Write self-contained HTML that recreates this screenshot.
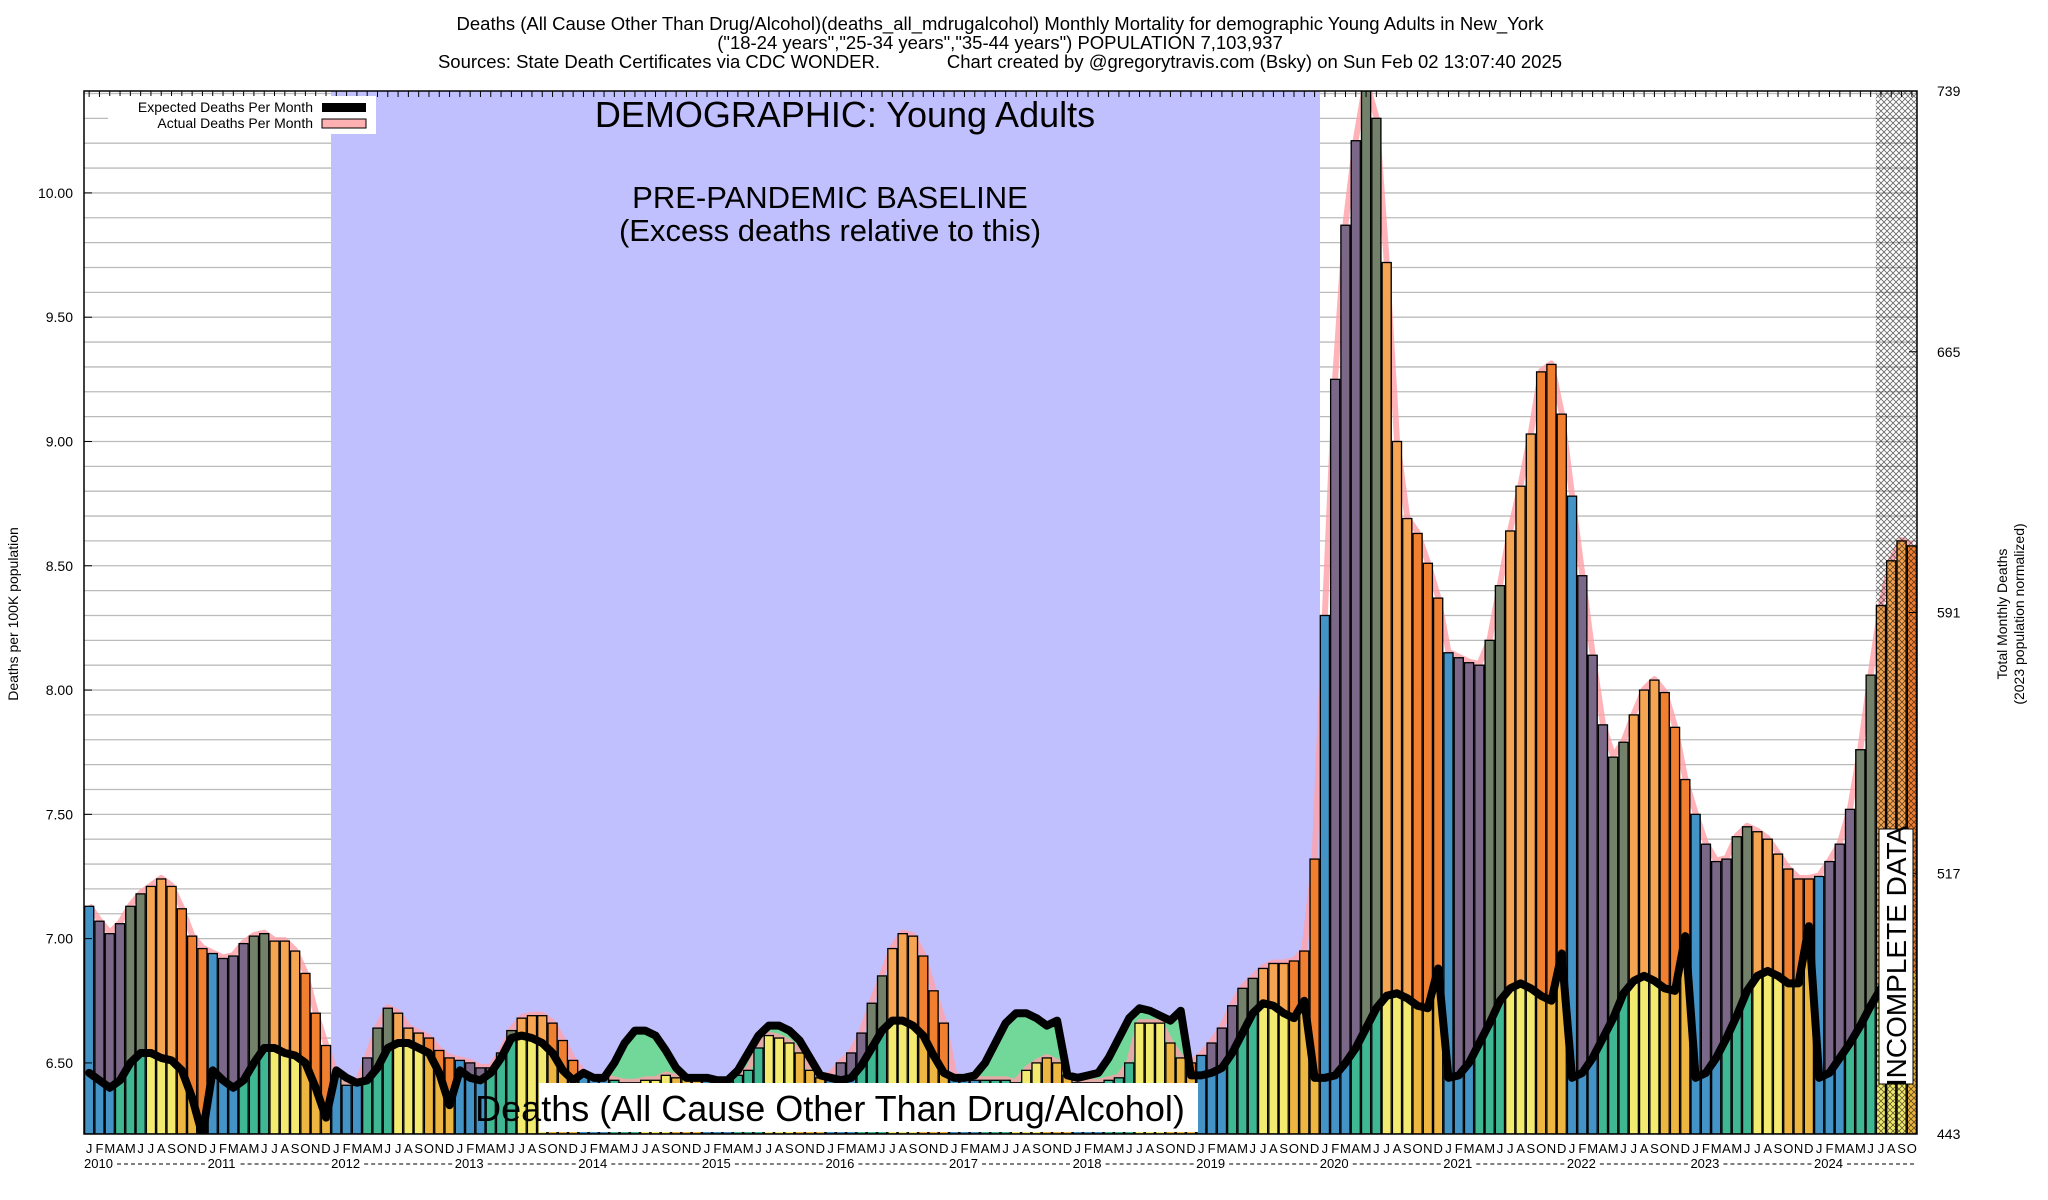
<!DOCTYPE html>
<html><head><meta charset="utf-8">
<style>
html,body{margin:0;padding:0;background:#fff;}
svg{display:block;font-family:"Liberation Sans",Arial,sans-serif;}
</style></head>
<body>
<svg id="chart" width="2048" height="1200" viewBox="0 0 2048 1200" xmlns="http://www.w3.org/2000/svg">
<defs>
<pattern id="hatch" width="6" height="6" patternUnits="userSpaceOnUse">
<path d="M0,0 L6,6 M6,0 L0,6" stroke="#000" stroke-width="0.8" fill="none"/>
</pattern>
<clipPath id="plotclip"><rect x="84" y="91" width="1833" height="1043"/></clipPath>
</defs>
<g font-size="18.5" text-anchor="middle" fill="#000">
<text x="1000" y="30">Deaths (All Cause Other Than Drug/Alcohol)(deaths_all_mdrugalcohol) Monthly Mortality for demographic Young Adults in New_York</text>
<text x="1000" y="49">("18-24 years","25-34 years","35-44 years") POPULATION 7,103,937</text>
<text x="1000" y="68" xml:space="preserve">Sources: State Death Certificates via CDC WONDER.             Chart created by @gregorytravis.com (Bsky) on Sun Feb 02 13:07:40 2025</text>
</g>
<g id="grid"></g>
<rect x="331" y="91" width="989" height="1043" fill="#c0c0ff"/>
<g id="marks" clip-path="url(#plotclip)"></g>
<g id="axes"></g>
<g>
<text x="845" y="127" font-size="36" text-anchor="middle">DEMOGRAPHIC: Young Adults</text>
<text x="830" y="208" font-size="31" text-anchor="middle">PRE-PANDEMIC BASELINE</text>
<text x="830" y="241" font-size="31" text-anchor="middle">(Excess deaths relative to this)</text>
<rect x="539" y="1083" width="659" height="49" fill="#fff"/>
<text x="830" y="1121" font-size="36" text-anchor="middle">Deaths (All Cause Other Than Drug/Alcohol)</text>
<rect x="1879" y="829" width="34" height="255" fill="#fff" stroke="#000" stroke-width="1"/>
<text transform="translate(1906,956) rotate(-90)" font-size="28" text-anchor="middle">INCOMPLETE DATA</text>
</g>
<g>
<rect x="108" y="96" width="268" height="38" fill="#fff"/>
<text x="313" y="112" font-size="14" text-anchor="end">Expected Deaths Per Month</text>
<rect x="322" y="103" width="44" height="9" fill="#000"/>
<text x="313" y="128" font-size="14" text-anchor="end">Actual Deaths Per Month</text>
<rect x="322" y="119" width="44" height="9" fill="#ffb0b0" stroke="#000" stroke-width="1"/>
</g>
<text transform="translate(18,614) rotate(-90)" font-size="14" text-anchor="middle">Deaths per 100K population</text>
<text transform="translate(2007,614) rotate(-90)" font-size="14" text-anchor="middle">Total Monthly Deaths</text>
<text transform="translate(2024,614) rotate(-90)" font-size="14" text-anchor="middle">(2023 population normalized)</text>
</svg>
<script>
const monthLetters = ["J","F","M","A","M","J","J","A","S","O","N","D"];
const yearLabels = ["2010","2011","2012","2013","2014","2015","2016","2017","2018","2019","2020","2021","2022","2023","2024"];
const actualDeaths = [
7.13,7.07,7.02,7.06,7.13,7.18,7.21,7.24,7.21,7.12,7.01,6.96,
6.94,6.92,6.93,6.98,7.01,7.02,6.99,6.99,6.95,6.86,6.70,6.57,
6.45,6.41,6.41,6.52,6.64,6.72,6.70,6.64,6.62,6.60,6.55,6.52,
6.51,6.50,6.48,6.48,6.54,6.63,6.68,6.69,6.69,6.66,6.59,6.51,
6.46,6.44,6.44,6.43,6.42,6.42,6.43,6.43,6.45,6.44,6.44,6.43,
6.43,6.43,6.43,6.45,6.47,6.56,6.61,6.60,6.58,6.54,6.47,6.44,
6.45,6.50,6.54,6.62,6.74,6.85,6.96,7.02,7.01,6.93,6.79,6.66,
6.45,6.43,6.43,6.43,6.43,6.43,6.42,6.47,6.50,6.52,6.50,6.45,
6.42,6.42,6.42,6.43,6.44,6.50,6.66,6.66,6.66,6.58,6.52,6.50,
6.53,6.58,6.64,6.73,6.80,6.84,6.88,6.90,6.90,6.91,6.95,7.32,
8.30,9.25,9.87,10.21,10.45,10.30,9.72,9.00,8.69,8.63,8.51,8.37,
8.15,8.13,8.11,8.10,8.20,8.42,8.64,8.82,9.03,9.28,9.31,9.11,
8.78,8.46,8.14,7.86,7.73,7.79,7.90,8.00,8.04,7.99,7.85,7.64,
7.50,7.38,7.31,7.32,7.41,7.45,7.43,7.40,7.34,7.28,7.24,7.24,
7.25,7.31,7.38,7.52,7.76,8.06,8.34,8.52,8.60,8.58];
const expectedDeaths = [
6.46,6.43,6.40,6.43,6.50,6.54,6.54,6.52,6.51,6.47,6.36,6.21,
6.47,6.43,6.40,6.43,6.50,6.56,6.56,6.54,6.53,6.50,6.40,6.28,
6.47,6.44,6.42,6.43,6.48,6.56,6.58,6.58,6.56,6.54,6.46,6.33,
6.47,6.44,6.43,6.46,6.52,6.60,6.61,6.60,6.58,6.54,6.47,6.43,
6.46,6.44,6.44,6.50,6.58,6.63,6.63,6.61,6.55,6.48,6.44,6.44,
6.44,6.43,6.43,6.47,6.54,6.61,6.65,6.65,6.63,6.59,6.52,6.45,
6.44,6.43,6.44,6.49,6.56,6.63,6.67,6.67,6.65,6.61,6.53,6.46,
6.44,6.44,6.45,6.50,6.58,6.66,6.70,6.70,6.68,6.65,6.67,6.45,
6.44,6.45,6.46,6.52,6.60,6.68,6.72,6.71,6.69,6.67,6.71,6.45,
6.45,6.46,6.48,6.54,6.62,6.70,6.74,6.73,6.70,6.68,6.75,6.44,
6.44,6.45,6.50,6.56,6.64,6.72,6.77,6.78,6.76,6.73,6.72,6.88,
6.44,6.45,6.50,6.58,6.66,6.75,6.80,6.82,6.80,6.77,6.75,6.94,
6.44,6.46,6.52,6.60,6.68,6.78,6.83,6.85,6.83,6.80,6.79,7.01,
6.44,6.46,6.52,6.60,6.69,6.79,6.85,6.87,6.85,6.82,6.82,7.05,
6.44,6.46,6.52,6.58,6.65,6.73,6.80,6.86];
const leftTicks = [6.5,7.0,7.5,8.0,8.5,9.0,9.5,10.0];
const rightTicks = [443,517,591,665,739];
const incompleteFrom = 174;

const NS="http://www.w3.org/2000/svg";
const PL=84, PR=1917, PT=91, PB=1134;
const VMIN=6.214, VMAX=10.41, DMIN=443, DMAX=739;
const nMonths = 178;
const bw = (PR-PL)/nMonths;
function xS(i){return PL+i*bw;}
function yS(v){return PB-(v-VMIN)/(VMAX-VMIN)*(PB-PT);}
function yD(d){return PB-(d-DMIN)/(DMAX-DMIN)*(PB-PT);}
function mk(tag,attrs,parent){const e=document.createElementNS(NS,tag);for(const k in attrs)e.setAttribute(k,attrs[k]);parent.appendChild(e);return e;}
const grid=document.getElementById('grid'), marks=document.getElementById('marks'), axes=document.getElementById('axes');
for(let g=62;g<=104;g++){const v=g/10;const y=yS(v);if(y<PT||y>PB)continue;
 const l=mk('line',{x1:PL,x2:PR,y1:y,y2:y,stroke:'#bbb','stroke-width':1.3},grid);
 
 }
const topCol=["#4393c7","#7b6888","#7b6888","#7b6888","#73806a","#73806a","#f5a452","#f5a452","#f5a452","#f08030","#f08030","#f08030"];
const botCol=["#4393c7","#4393c7","#4393c7","#3fb793","#3fb793","#3fb793","#f3ea70","#f3ea70","#f3ea70","#ecb640","#ecb640","#ecb640"];
let gp="M"+xS(0)+","+PB;
expectedDeaths.forEach((v,i)=>{gp+=" L"+(xS(i)+bw/2)+","+yS(v);});
gp+=" L"+(xS(expectedDeaths.length-1)+bw/2)+","+PB+" Z";
const green=mk('path',{d:gp,fill:'#72d89a'},marks);


let pp="";
actualDeaths.forEach((v,i)=>{pp+=(i?" L":"M")+(xS(i)+bw/2)+","+(yS(v)-1);});
const pink=mk('path',{d:pp,fill:'none',stroke:'#ffa0a8','stroke-width':6,'stroke-linejoin':'round',opacity:0.8},marks);


actualDeaths.forEach((v,i)=>{
 const m=i%12, x=xS(i), ya=yS(v);
 const e=i<expectedDeaths.length?expectedDeaths[i]:expectedDeaths[expectedDeaths.length-1];
 const ye=Math.max(yS(e),ya);
 const g=mk('g',{},marks);
 
 
 mk('rect',{x:x,y:ye,width:bw,height:PB-ye,fill:botCol[m]},g);
 if(ye>ya) mk('rect',{x:x,y:ya,width:bw,height:ye-ya,fill:topCol[m]},g);
 mk('rect',{x:x+0.6,y:ya,width:bw-1.2,height:PB-ya,fill:'none',stroke:'#000','stroke-width':1.3},g);
});
let lp="";
expectedDeaths.forEach((v,i)=>{lp+=(i?" L":"M")+(xS(i)+bw/2)+","+yS(v);});
const line=mk('path',{d:lp,fill:'none',stroke:'#000','stroke-width':8,'stroke-linejoin':'round','stroke-linecap':'round'},marks);


const h=mk('rect',{x:xS(incompleteFrom),y:PT,width:PR-xS(incompleteFrom),height:PB-PT,fill:'url(#hatch)',opacity:0.6},marks);


const fr=mk('rect',{x:PL,y:PT,width:PR-PL,height:PB-PT,fill:'none',stroke:'#000','stroke-width':1.5},axes);


leftTicks.forEach(v=>{const y=yS(v);
 mk('line',{x1:PL,x2:PL+8,y1:y,y2:y,stroke:'#000'},axes);
 const t=mk('text',{x:73,y:y+5,'font-size':14,'text-anchor':'end'},axes);
 t.textContent=v.toFixed(2);
 
 });
rightTicks.forEach(d=>{const y=yD(d);
 mk('line',{x1:PR-8,x2:PR,y1:y,y2:y,stroke:'#000'},axes);
 const t=mk('text',{x:1937,y:y+5,'font-size':14},axes);
 t.textContent=d;
 
 });
for(let i=0;i<nMonths;i++){
 const x=xS(i)+bw/2;
 mk('line',{x1:x,x2:x,y1:PT,y2:PT+6,stroke:'#000'},axes);
 const t=mk('text',{x:x,y:1153,'font-size':13,'text-anchor':'middle'},axes);
 t.textContent=monthLetters[i%12];
 
 
}
yearLabels.forEach((yr,k)=>{
 const x=xS(k*12);
 const t=mk('text',{x:x,y:1168,'font-size':13},axes);
 t.textContent=yr;
 
 
 const end=Math.min(xS((k+1)*12),PR);
 mk('line',{x1:x+33,x2:end-2,y1:1164,y2:1164,stroke:'#000','stroke-width':1,'stroke-dasharray':'4,3'},axes);
});
</script>
</body></html>
